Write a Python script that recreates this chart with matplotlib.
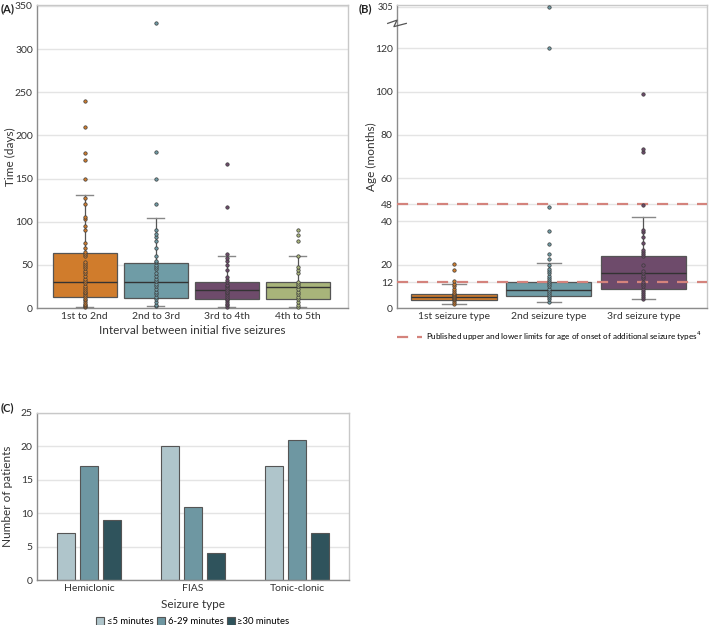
import matplotlib.pyplot as plt
import matplotlib.lines as mlines
import numpy as np

plt.rcParams['font.family'] = ['Lato', 'DejaVu Sans']

# ---- panel A data: interval between seizures (days)
a_groups = ['1st to 2nd', '2nd to 3rd', '3rd to 4th', '4th to 5th']
a_whislo = [1, 2, 1, 1]
a_q1 = [13, 12, 10, 10]
a_med = [30, 30, 21, 24]
a_q3 = [64, 52, 30, 30]
a_whishi = [131, 104, 60, 60]
a_pts1 = [1, 2, 3, 5, 7, 9, 11, 13, 15, 17, 19, 21, 23, 26, 29, 31, 34, 37, 40,
          43, 46, 49, 51, 53, 60, 62, 65, 70, 75, 90, 95, 103, 105, 120, 128,
          150, 172, 180, 210, 240]
a_pts2 = [2, 4, 7, 10, 13, 16, 19, 22, 25, 28, 31, 34, 37, 40, 45, 48, 50, 53,
          55, 60, 70, 78, 82, 86, 90, 120, 150, 181, 330]
a_pts3 = [1, 3, 5, 7, 9, 11, 13, 15, 17, 19, 21, 23, 25, 27, 30, 33, 36, 44,
          50, 55, 58, 63, 117, 167]
a_pts4 = [1, 4, 7, 10, 13, 16, 19, 22, 25, 28, 30, 40, 44, 48, 60, 78, 85, 90]
a_points = [a_pts1, a_pts2, a_pts3, a_pts4]
a_colors = ['#D07C2C', '#6F9CA6', '#6E4B6B', '#A8B47A']

# ---- panel B data: age at onset (months)
b_groups = ['1st seizure type', '2nd seizure type', '3rd seizure type']
b_whislo = [2, 3, 4]
b_q1 = [3.5, 5.5, 9]
b_med = [5, 8.5, 16]
b_q3 = [6.5, 12, 24]
b_whishi = [11.2, 20.8, 42]
b_pts1 = [2, 3, 3.5, 4, 4.5, 5, 5.5, 6, 6.5, 7, 8, 9, 10, 11, 12.6, 17.7, 20.3]
b_pts2 = [3, 4, 5, 6, 7, 8, 9, 10, 11, 12, 13, 14, 15, 16, 17, 18, 20, 22.6,
          25, 29.7, 35.8, 46.6, 120, 305]
b_pts3 = [4, 5, 6, 7, 8, 9, 10, 11, 12, 14, 15, 16, 17, 20, 24, 25, 26, 27,
          30, 33, 35, 36, 47.7, 72, 73.5, 99]
b_points = [b_pts1, b_pts2, b_pts3]
b_limits = [12, 48]
b_ticks = [0, 12, 20, 40, 48, 60, 80, 100, 120]
b_break_value = 305

# ---- panel C data: seizure duration counts
c_types = ['Hemiclonic', 'FIAS', 'Tonic-clonic']
c_short = [7, 20, 17]
c_mid = [17, 11, 21]
c_long = [9, 4, 7]
c_labels = ['\u22645 minutes', '6-29 minutes', '\u226530 minutes']
c_colors = ['#AFC5CB', '#6E97A2', '#2F535C']

fig = plt.figure(figsize=(7.09, 6.25), dpi=100)
W, H = 709, 625


def frame(ax):
    for s in ['top', 'right']:
        ax.spines[s].set_color('#c8c8c8')
    for s in ['left', 'bottom']:
        ax.spines[s].set_color('#8c8c8c')
    for s in ax.spines.values():
        s.set_linewidth(1.0)
    ax.tick_params(length=0, labelsize=7.5, colors='#333333', pad=3)
    ax.yaxis.grid(True, color='#e4e4e4', lw=1.0)
    ax.set_axisbelow(True)


def boxes(ax, lo, q1, med, q3, hi, pts, colors, width, ytrans=None):
    stats = [dict(whislo=lo[i], q1=q1[i], med=med[i], q3=q3[i], whishi=hi[i],
                  fliers=[]) for i in range(len(med))]
    bp = ax.bxp(stats, positions=range(len(med)), widths=width,
                patch_artist=True, showfliers=False, capwidths=0.25,
                boxprops=dict(edgecolor='#555555', lw=0.9),
                medianprops=dict(color='#333333', lw=1.0),
                whiskerprops=dict(color='#555555', lw=0.9),
                capprops=dict(color='#888888', lw=1.0), zorder=2)
    for p, c in zip(bp['boxes'], colors):
        p.set_facecolor(c)
    for i, vals in enumerate(pts):
        v = np.array(vals, dtype=float)
        if ytrans is not None:
            v = ytrans(v)
        ax.scatter(np.full(len(v), i), v, s=6, color=colors[i],
                   edgecolor='#3a3a3a', linewidth=0.5, zorder=4, clip_on=False)


# ---------------- panel A
axA = fig.add_axes([37 / W, 1 - 308 / H, 311 / W, 303 / H])
frame(axA)
boxes(axA, a_whislo, a_q1, a_med, a_q3, a_whishi, a_points, a_colors, 0.9)
axA.set_ylim(0, 351)
axA.set_yticks(range(0, 351, 50))
axA.set_xlim(-0.67, 3.71)
axA.set_xticks(range(4))
axA.set_xticklabels(a_groups)
axA.set_ylabel('Time (days)', fontsize=8.5, color='#333333')
axA.yaxis.set_label_coords(-21 / 311, 0.5)
axA.set_xlabel('Interval between initial five seizures', fontsize=8.5,
               color='#333333', labelpad=3)

# ---------------- panel B (broken axis: 305 shown at top)
b_top_pos = 139.3


def b_map(v):
    return np.where(v > 130, b_top_pos, v)


axB = fig.add_axes([397 / W, 1 - 308 / H, 310 / W, 303 / H])
frame(axB)
boxes(axB, b_whislo, b_q1, b_med, b_q3, b_whishi, b_points, a_colors[:3],
      0.9, ytrans=b_map)
for lim in b_limits:
    axB.axhline(lim, color='#D4837C', lw=1.6, ls=(0, (5, 4)), zorder=3)
axB.set_ylim(0, 140)
axB.set_yticks(b_ticks + [b_top_pos])
axB.set_yticklabels([str(t) for t in b_ticks] + [str(b_break_value)])
axB.get_yticklabels()[-1].set_fontsize(6.5)
axB.set_xlim(-0.6, 2.67)
axB.set_xticks(range(3))
axB.set_xticklabels(b_groups)
axB.set_ylabel('Age (months)', fontsize=8.5, color='#333333')
axB.yaxis.set_label_coords(-20 / 310, 0.5)
# break mark on the left spine
zx = np.array([-0.03, 0.0, -0.01, 0.03])
zy = np.array([131.5, 133, 130, 131.5])
axB.plot(zx, zy, transform=axB.get_yaxis_transform(), color='#555555',
         lw=0.9, clip_on=False, zorder=5)
h = mlines.Line2D([], [], color='#D4837C', lw=1.6, ls=(0, (5, 4)))
axB.legend([h], ['Published upper and lower limits for age of onset of '
                 'additional seizure types$^4$'],
           loc='upper left', bbox_to_anchor=(-0.01, -0.06), frameon=False,
           fontsize=5.9, handlelength=3.0, handletextpad=0.5, borderaxespad=0)

# ---------------- panel C
axC = fig.add_axes([37 / W, 1 - 580 / H, 312 / W, 167 / H])
frame(axC)
x = np.arange(len(c_types))
bw = 0.18
for k, (vals, col) in enumerate(zip([c_short, c_mid, c_long], c_colors)):
    axC.bar(x + (k - 1) * 0.22, vals, bw, color=col, edgecolor='#555555',
            lw=0.8, label=c_labels[k], zorder=2)
axC.set_ylim(0, 25)
axC.set_yticks(range(0, 26, 5))
axC.set_xlim(-0.5, 2.5)
axC.set_xticks(x)
axC.set_xticklabels(c_types)
axC.set_ylabel('Number of patients', fontsize=8.5, color='#333333')
axC.yaxis.set_label_coords(-24 / 312, 0.5)
axC.set_xlabel('Seizure type', fontsize=8.5, color='#333333', labelpad=4)
axC.legend(loc='upper center', bbox_to_anchor=(0.5, -0.2), ncol=3,
           frameon=False, fontsize=6.8, handlelength=0.8, handleheight=0.8,
           handletextpad=0.3, columnspacing=0.4, borderaxespad=0)

for lab, xx, yy in [('(A)', 1, 9), ('(B)', 359, 9), ('(C)', 1, 408)]:
    fig.text(xx / W, 1 - yy / H, lab, fontsize=8, fontweight='bold',
             color='#222222', va='center', ha='left')

fig.savefig('out.png', dpi=100)
